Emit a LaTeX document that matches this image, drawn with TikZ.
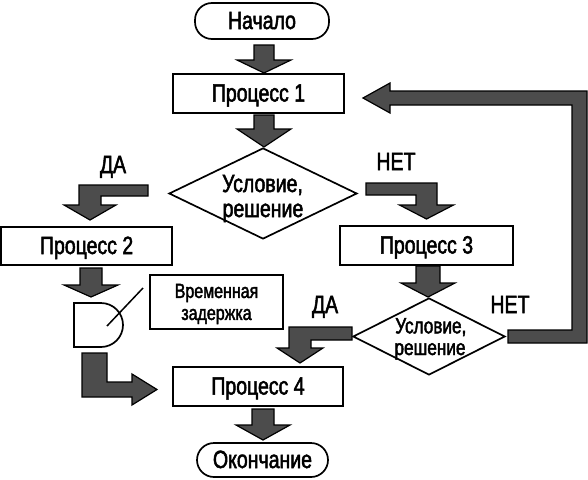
\documentclass[tikz,border=0pt]{standalone}
\usepackage{fontspec}
\setmainfont{Liberation Sans}[FakeStretch=0.78,FakeBold=2]
\usetikzlibrary{shapes.geometric}
\newcommand\mainsz{\fontsize{25}{29}\selectfont}
\newcommand\midsz{\fontsize{20.5}{22}\selectfont}
\newcommand\dsz{\fontsize{22}{26}\selectfont}
\begin{document}
\begin{tikzpicture}[x=1pt,y=-1pt,
  box/.style={draw, line width=1.7pt, inner sep=0pt, text height=16pt, text depth=0pt, font=\mainsz},
  term/.style={box, rounded corners=17pt},
  dec/.style={diamond, draw, line width=1.7pt, inner sep=0pt},
  blk/.style={draw=black, fill=black!70, line width=1.2pt, line join=miter},
  txt/.style={inner sep=0pt, anchor=base, font=\mainsz},
  thin/.style={line width=1.5pt}
]
\useasboundingbox (0,0) rectangle (588,479);

% nodes
\node[term, minimum width=134pt, minimum height=36pt] (start) at (262,21) {Начало};
\node[box, minimum width=171pt, minimum height=39pt] (p1) at (258.5,93.5) {Процесс 1};
\node[dec, minimum width=188pt, minimum height=91pt] (d1) at (263,193.5) {};
\node[txt] (d1a) at (262.5,192) {Условие,};
\node[txt] (d1b) at (263,217) {решение};
\node[txt] (da1) at (113,173) {ДА};
\node[txt] (net1) at (396,170) {НЕТ};
\node[box, minimum width=171pt, minimum height=38pt] (p2) at (86.6,246) {Процесс 2};
\node[box, minimum width=173pt, minimum height=39pt] (p3) at (426.5,245.5) {Процесс 3};
\node[draw, line width=1.7pt, inner sep=0pt, minimum width=133pt, minimum height=54pt] (delaybox) at (216.5,302) {};
\node[inner sep=0pt, align=center, font=\midsz] (dl) at (216.5,304) {Временная\\задержка};
\node[dec, minimum width=152pt, minimum height=77pt] (d2) at (429,336.5) {};
\node[txt, font=\dsz] (d2a) at (430.8,333.3) {Условие,};
\node[txt, font=\dsz] (d2b) at (430,355) {решение};
\node[txt] (da2) at (325,313) {ДА};
\node[txt] (net2) at (510,313) {НЕТ};
\node[box, minimum width=170pt, minimum height=39pt] (p4) at (258,386.5) {Процесс 4};
\node[term, minimum width=131pt, minimum height=34pt] (end) at (262.5,460) {Окончание};

% delay symbol
\draw[line width=1.7pt] (74,303) -- (101,303)
  .. controls (113.15,303) and (123,312.85) .. (123,325)
  .. controls (123,337.15) and (113.15,347) .. (101,347) -- (74,347) -- cycle;
\coordinate (la) at (107,326);
\coordinate (lb) at (143,288);
\draw[thin] (la) -- (lb);

% block arrows
\path[blk] (254,45) -- (274,45) -- (274,60) -- (291,60) -- (264,73) -- (237,60) -- (254,60) -- cycle;
\path[blk] (254,115) -- (274,115) -- (274,129) -- (291,129) -- (264,147) -- (237,129) -- (254,129) -- cycle;
\path[blk] (148,185) -- (79,185) -- (79,205) -- (64,205) -- (90,220) -- (116,205) -- (101,205) -- (101,196) -- (148,196) -- cycle;
\path[blk] (366,183) -- (437,183) -- (437,205) -- (453.5,205) -- (426.5,219) -- (399.5,205) -- (416,205) -- (416,195) -- (366,195) -- cycle;
\path[blk] (80,268) -- (102,268) -- (102,285) -- (118,285) -- (91,297) -- (64,285) -- (80,285) -- cycle;
\path[blk] (416,266) -- (440,266) -- (440,283) -- (455,283) -- (428,297) -- (401,283) -- (416,283) -- cycle;
\path[blk] (352,327) -- (289,327) -- (289,348) -- (277,348) -- (300,363) -- (323,348) -- (311,348) -- (311,340) -- (352,340) -- cycle;
\path[blk] (82,353) -- (107,353) -- (107,382) -- (132,382) -- (132,374) -- (157,389.5) -- (132,405) -- (132,397) -- (82,397) -- cycle;
\path[blk] (508,330) -- (572,330) -- (572,105) -- (390,105) -- (390,113) -- (363,98) -- (390,83) -- (390,91) -- (587,91) -- (587,343) -- (508,343) -- cycle;
\path[blk] (252,409) -- (274,409) -- (274,425) -- (290,425) -- (263,440) -- (236,425) -- (252,425) -- cycle;
\end{tikzpicture}
\end{document}
